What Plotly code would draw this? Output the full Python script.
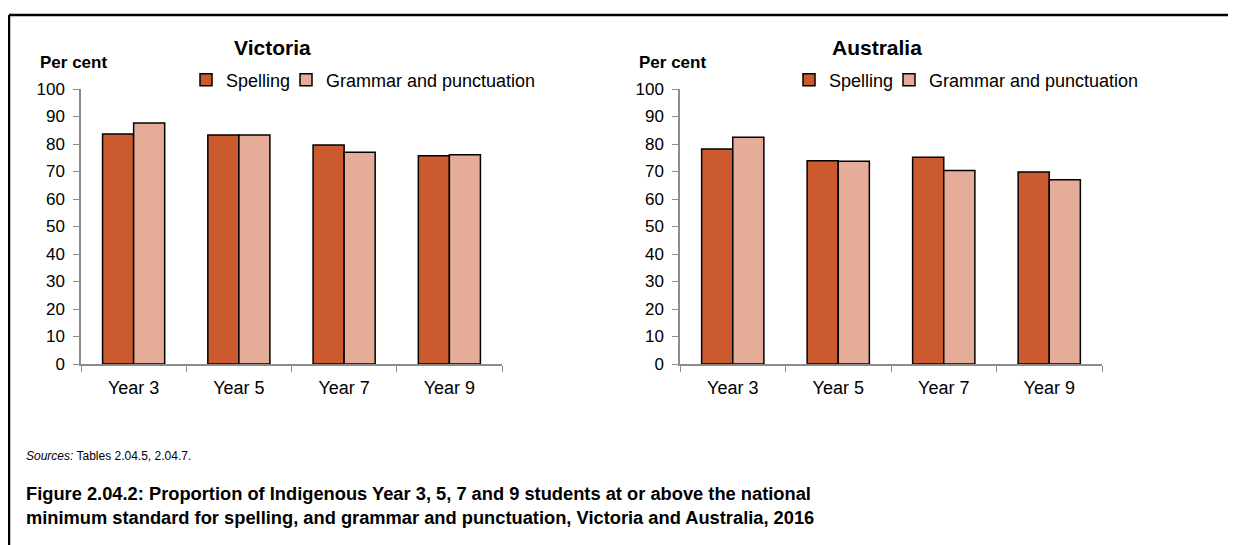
import plotly.graph_objects as go
from plotly.subplots import make_subplots

# Data
years = ["Year 3", "Year 5", "Year 7", "Year 9"]
vic_spelling = [83.6, 83.3, 79.6, 75.7]
vic_grammar = [87.6, 83.3, 77.0, 76.1]
aus_spelling = [78.2, 73.9, 75.2, 69.8]
aus_grammar = [82.5, 73.7, 70.4, 67.0]
y_ticks = [0, 10, 20, 30, 40, 50, 60, 70, 80, 90, 100]

spelling_color = "#CB5A2F"
grammar_color = "#E5AD97"
axis_color = "#8C8C8C"
font_ = "Liberation Sans, Arial, sans-serif"

W, H = 1236, 545
OFF = 8  # page body margin in the browser


def px_x(x):
    return (x - OFF) / W


def px_y(y):
    return 1 - (y - OFF) / H


fig = make_subplots(rows=1, cols=2)

# one legend per entry so each can sit where the reference has it
panels = [
    (vic_spelling, vic_grammar, 1, "legend", "legend2"),
    (aus_spelling, aus_grammar, 2, "legend3", "legend4"),
]
for spelling, grammar, col, leg_s, leg_g in panels:
    fig.add_bar(
        name="Spelling", x=years, y=spelling, marker_color=spelling_color,
        marker_line=dict(color="black", width=1.5), legend=leg_s,
        row=1, col=col,
    )
    fig.add_bar(
        name="Grammar and punctuation", x=years, y=grammar,
        marker_color=grammar_color,
        marker_line=dict(color="black", width=1.5), legend=leg_g,
        row=1, col=col,
    )

fig.update_yaxes(
    range=[0, 100], tickvals=y_ticks, showgrid=False, zeroline=False,
    showline=True, linecolor=axis_color, linewidth=1.5,
    ticks="outside", ticklen=6, tickcolor=axis_color, automargin=False,
    ticklabelstandoff=5, tickfont=dict(size=17, color="black"),
)
fig.update_xaxes(
    showgrid=False, showline=True, linecolor=axis_color, linewidth=1.5,
    ticks="outside", ticklen=6, tickcolor=axis_color, tickson="boundaries",
    automargin=False, ticklabelstandoff=7,
    tickfont=dict(size=18, color="black"),
)


def legend_at(x_px):
    return dict(
        orientation="h", x=px_x(x_px), y=px_y(80), xanchor="left",
        yanchor="middle", font=dict(size=18), itemwidth=30,
        bgcolor="rgba(0,0,0,0)",
    )


fig.update_layout(
    xaxis=dict(domain=[px_x(81), px_x(502)]),
    xaxis2=dict(domain=[px_x(680), px_x(1102)]),
    yaxis=dict(domain=[px_y(364), px_y(89)]),
    yaxis2=dict(domain=[px_y(364), px_y(89)]),
    barmode="group",
    bargap=0.41,
    bargroupgap=0,
    width=W,
    height=H,
    margin=dict(l=0, r=0, t=0, b=0, autoexpand=False),
    plot_bgcolor="white",
    paper_bgcolor="white",
    font=dict(family=font_, color="black", size=17),
    legend=legend_at(186),
    legend2=legend_at(286),
    legend3=legend_at(789),
    legend4=legend_at(889),
    showlegend=True,
)

# Panel titles and axis labels
for x_, title in [(272, "Victoria"), (877, "Australia")]:
    fig.add_annotation(
        text="<b>%s</b>" % title, x=px_x(x_), y=px_y(47), xref="paper",
        yref="paper", showarrow=False, font=dict(size=21),
        xanchor="center", yanchor="middle",
    )
for x_ in [38, 637]:
    fig.add_annotation(
        text="<b>Per cent</b>", x=px_x(x_), y=px_y(62), xref="paper",
        yref="paper", showarrow=False, font=dict(size=17),
        xanchor="left", yanchor="middle",
    )

fig.add_annotation(
    text="<i>Sources:</i> Tables 2.04.5, 2.04.7.", x=px_x(24),
    y=px_y(456), xref="paper", yref="paper", showarrow=False,
    font=dict(size=12), xanchor="left", yanchor="middle",
)
fig.add_annotation(
    text="<b>Figure 2.04.2: Proportion of Indigenous Year 3, 5, 7 and 9 "
    "students at or above the national<br>minimum standard for spelling, "
    "and grammar and punctuation, Victoria and Australia, 2016</b>",
    x=px_x(24), y=px_y(505), xref="paper", yref="paper",
    showarrow=False, font=dict(size=18.3), xanchor="left",
    yanchor="middle", align="left",
)

# Frame lines (top and left)
fig.add_shape(type="line", xref="paper", yref="paper", x0=1 / W,
              x1=1, y0=px_y(15), y1=px_y(15),
              line=dict(color="black", width=2.5))
fig.add_shape(type="line", xref="paper", yref="paper", x0=1 / W,
              x1=1 / W, y0=0, y1=px_y(15),
              line=dict(color="black", width=2.5))

fig.write_html("out.html")
